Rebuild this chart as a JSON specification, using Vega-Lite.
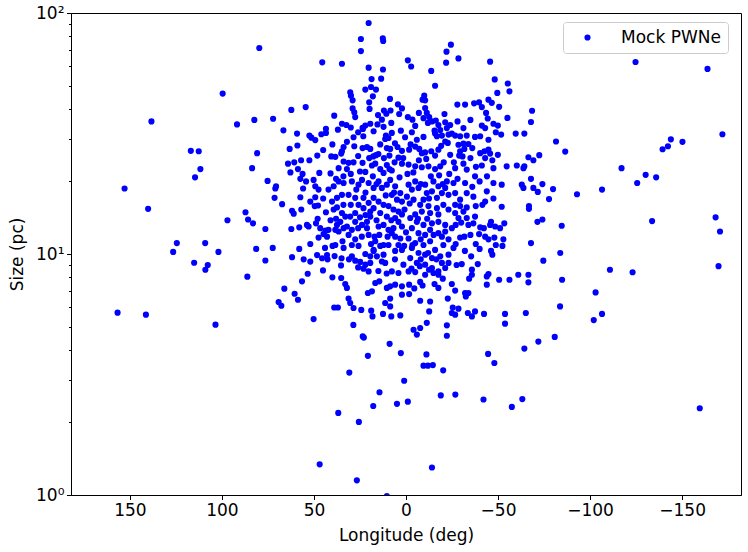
{
  "$schema": "https://vega.github.io/schema/vega-lite/v6.json",
  "width": 670,
  "height": 482,
  "autosize": {"type": "none"},
  "padding": {"left": 71, "top": 13, "right": 7, "bottom": 57},
  "config": {
    "font": "DejaVu Sans",
    "view": {"stroke": "black", "strokeWidth": 1},
    "axis": {
      "grid": false,
      "domainColor": "black",
      "tickColor": "black",
      "labelColor": "black",
      "titleColor": "black",
      "labelFontSize": 17,
      "titleFontSize": 17,
      "titleFontWeight": "normal",
      "labelPadding": 2.5,
      "tickSize": 4.5
    },
    "legend": {
      "labelFontSize": 17,
      "labelColor": "black",
      "padding": 7,
      "strokeColor": "#cccccc",
      "fillColor": "white",
      "cornerRadius": 3,
      "symbolOffset": 9,
      "labelOffset": 25
    }
  },
  "data": {
    "values": [
      {"lon": 79.7, "size": 71.6}, {"lon": 99.6, "size": 46.3}, {"lon": 138.3, "size": 35.5}, {"lon": 91.8, "size": 34.5},
      {"lon": 82.4, "size": 36.0}, {"lon": 116.9, "size": 26.8}, {"lon": 112.6, "size": 26.7}, {"lon": 80.9, "size": 26.2},
      {"lon": 111.7, "size": 22.5}, {"lon": 114.6, "size": 20.8}, {"lon": 83.6, "size": 22.7}, {"lon": 152.9, "size": 18.7},
      {"lon": 140.1, "size": 15.4}, {"lon": 87.2, "size": 14.9}, {"lon": 97.0, "size": 13.8}, {"lon": 85.8, "size": 13.9},
      {"lon": 83.1, "size": 13.4}, {"lon": 124.5, "size": 11.1}, {"lon": 126.5, "size": 10.2}, {"lon": 109.1, "size": 11.1},
      {"lon": 101.9, "size": 10.2}, {"lon": 81.4, "size": 10.5}, {"lon": 115.1, "size": 9.2}, {"lon": 107.7, "size": 9.0},
      {"lon": 109.0, "size": 8.6}, {"lon": 86.2, "size": 8.05}, {"lon": 156.7, "size": 5.71}, {"lon": 141.3, "size": 5.6},
      {"lon": 103.5, "size": 5.09},
      {"lon": -124.7, "size": 62.6}, {"lon": -163.8, "size": 58.6}, {"lon": -171.9, "size": 31.4}, {"lon": -81.5, "size": 29.3},
      {"lon": -86.5, "size": 26.6}, {"lon": -143.9, "size": 29.9}, {"lon": -150.2, "size": 29.2}, {"lon": -142.3, "size": 28.0},
      {"lon": -139.4, "size": 27.2}, {"lon": -117.1, "size": 22.7}, {"lon": -130.2, "size": 21.3}, {"lon": -135.9, "size": 20.8},
      {"lon": -125.6, "size": 19.7}, {"lon": -106.5, "size": 18.5}, {"lon": -92.9, "size": 17.7}, {"lon": -79.9, "size": 18.6},
      {"lon": -77.7, "size": 16.9}, {"lon": -133.7, "size": 13.7}, {"lon": -168.2, "size": 14.2}, {"lon": -170.6, "size": 12.4},
      {"lon": -84.6, "size": 13.1}, {"lon": -83.8, "size": 10.1}, {"lon": -110.8, "size": 8.6}, {"lon": -123.1, "size": 8.4},
      {"lon": -169.8, "size": 8.9}, {"lon": -84.8, "size": 7.82}, {"lon": -103.0, "size": 6.93}, {"lon": -83.7, "size": 6.06},
      {"lon": -102.0, "size": 5.32}, {"lon": -106.5, "size": 5.64}, {"lon": -80.8, "size": 4.53}, {"lon": -159.6, "size": 2.29},
      {"lon": 20.3, "size": 90.9}, {"lon": 24.5, "size": 78.0}, {"lon": 12.6, "size": 78.5}, {"lon": 12.4, "size": 76.5},
      {"lon": 24.5, "size": 69.5}, {"lon": 45.5, "size": 62.4}, {"lon": 34.8, "size": 61.6}, {"lon": 20.3, "size": 59.3},
      {"lon": 12.5, "size": 58.3}, {"lon": 18.7, "size": 53.2}, {"lon": 13.5, "size": 53.4}, {"lon": 22.1, "size": 48.1},
      {"lon": 19.0, "size": 49.3}, {"lon": 16.3, "size": 48.1}, {"lon": 30.3, "size": 46.9}, {"lon": 29.9, "size": 45.4},
      {"lon": 29.0, "size": 43.4}, {"lon": 18.0, "size": 45.1}, {"lon": 20.0, "size": 42.6}, {"lon": 8.7, "size": 44.0},
      {"lon": 19.8, "size": 40.0}, {"lon": 29.0, "size": 40.2}, {"lon": 28.1, "size": 38.7}, {"lon": 27.6, "size": 37.0},
      {"lon": 4.4, "size": 41.8}, {"lon": 2.2, "size": 40.2}, {"lon": 12.0, "size": 39.4}, {"lon": 8.4, "size": 39.4},
      {"lon": 10.7, "size": 38.2}, {"lon": 3.7, "size": 38.1}, {"lon": 62.3, "size": 39.6}, {"lon": 54.5, "size": 40.7},
      {"lon": 72.2, "size": 36.4}, {"lon": 39.0, "size": 37.5}, {"lon": 15.2, "size": 37.7}, {"lon": 13.1, "size": 36.1},
      {"lon": 34.8, "size": 34.7}, {"lon": 32.4, "size": 34.3}, {"lon": 22.1, "size": 34.1}, {"lon": 23.6, "size": 33.4},
      {"lon": 19.4, "size": 34.7}, {"lon": 37.0, "size": 32.8}, {"lon": 43.5, "size": 33.1}, {"lon": 43.5, "size": 31.8},
      {"lon": 46.0, "size": 31.4}, {"lon": 66.6, "size": 32.6}, {"lon": 59.2, "size": 31.6}, {"lon": 52.5, "size": 31.0},
      {"lon": 51.4, "size": 30.4}, {"lon": 49.3, "size": 29.7}, {"lon": 23.4, "size": 33.0}, {"lon": 23.2, "size": 30.8},
      {"lon": 17.6, "size": 32.3}, {"lon": 12.2, "size": 33.7}, {"lon": 10.9, "size": 31.0}, {"lon": 9.5, "size": 30.3},
      {"lon": 11.3, "size": 30.0}, {"lon": 7.7, "size": 31.8}, {"lon": 2.8, "size": 32.5}, {"lon": 32.1, "size": 29.2},
      {"lon": 63.2, "size": 27.3}, {"lon": 59.0, "size": 28.2}, {"lon": 33.9, "size": 27.8}, {"lon": 34.8, "size": 26.7},
      {"lon": 28.1, "size": 28.0}, {"lon": 23.6, "size": 27.5}, {"lon": 21.2, "size": 27.8}, {"lon": 19.4, "size": 27.3},
      {"lon": 17.8, "size": 25.4}, {"lon": 16.3, "size": 25.7}, {"lon": 10.4, "size": 27.5}, {"lon": 8.6, "size": 27.3},
      {"lon": 4.6, "size": 27.8}, {"lon": 2.2, "size": 26.8}, {"lon": 9.0, "size": 25.6}, {"lon": 64.1, "size": 23.7},
      {"lon": 60.7, "size": 24.0}, {"lon": 57.0, "size": 24.5}, {"lon": 52.5, "size": 24.5}, {"lon": 48.2, "size": 25.6},
      {"lon": 40.6, "size": 25.4}, {"lon": 38.4, "size": 25.3}, {"lon": 35.2, "size": 26.1}, {"lon": 33.9, "size": 24.2},
      {"lon": 31.2, "size": 23.9}, {"lon": 28.5, "size": 24.0}, {"lon": 36.6, "size": 22.7}, {"lon": 32.1, "size": 22.5},
      {"lon": 23.6, "size": 23.9}, {"lon": 18.5, "size": 23.3}, {"lon": 16.7, "size": 23.7}, {"lon": 10.4, "size": 23.4},
      {"lon": 6.2, "size": 24.0}, {"lon": 4.1, "size": 25.1}, {"lon": 2.2, "size": 23.7}, {"lon": 58.7, "size": 22.5},
      {"lon": 62.8, "size": 21.8}, {"lon": 56.2, "size": 21.5}, {"lon": 47.1, "size": 21.7}, {"lon": 41.0, "size": 21.6},
      {"lon": 22.1, "size": 21.9}, {"lon": 12.2, "size": 21.7}, {"lon": 7.7, "size": 22.2},
      {"lon": -24.4, "size": 73.9}, {"lon": -22.0, "size": 69.1}, {"lon": -21.8, "size": 62.2}, {"lon": -28.5, "size": 64.8},
      {"lon": -45.7, "size": 62.8}, {"lon": -1.0, "size": 63.6}, {"lon": -2.8, "size": 60.0}, {"lon": -13.7, "size": 57.5},
      {"lon": -15.8, "size": 49.9}, {"lon": -48.2, "size": 53.0}, {"lon": -55.3, "size": 51.0}, {"lon": -56.2, "size": 47.3},
      {"lon": -49.6, "size": 46.6}, {"lon": -9.9, "size": 45.4}, {"lon": -9.0, "size": 43.7}, {"lon": -10.4, "size": 43.4},
      {"lon": -27.9, "size": 41.7}, {"lon": -32.1, "size": 41.7}, {"lon": -37.0, "size": 42.2}, {"lon": -39.7, "size": 42.6},
      {"lon": -41.2, "size": 40.7}, {"lon": -44.8, "size": 43.7}, {"lon": -46.6, "size": 42.4}, {"lon": -50.6, "size": 40.8},
      {"lon": -68.5, "size": 39.3}, {"lon": -67.9, "size": 35.3}, {"lon": -55.1, "size": 36.7}, {"lon": -43.5, "size": 38.5},
      {"lon": -44.4, "size": 36.5}, {"lon": -41.2, "size": 34.1}, {"lon": -43.0, "size": 33.3}, {"lon": -47.5, "size": 34.7},
      {"lon": -49.9, "size": 34.1}, {"lon": -48.8, "size": 32.0}, {"lon": -51.7, "size": 31.3}, {"lon": -59.6, "size": 31.6},
      {"lon": -64.3, "size": 31.6}, {"lon": -20.9, "size": 38.1}, {"lon": -1.0, "size": 37.0}, {"lon": -3.5, "size": 36.1},
      {"lon": -10.4, "size": 40.3}, {"lon": -11.3, "size": 38.5}, {"lon": -9.5, "size": 36.6}, {"lon": -12.6, "size": 37.0},
      {"lon": -11.9, "size": 35.0}, {"lon": -14.1, "size": 35.5}, {"lon": -16.2, "size": 35.8}, {"lon": -17.6, "size": 34.3},
      {"lon": -21.3, "size": 35.2}, {"lon": -24.0, "size": 34.3}, {"lon": -22.2, "size": 33.3}, {"lon": -18.6, "size": 32.7},
      {"lon": -15.5, "size": 32.5}, {"lon": -31.2, "size": 33.3}, {"lon": -3.2, "size": 32.0}, {"lon": -5.9, "size": 29.8},
      {"lon": -9.5, "size": 30.6}, {"lon": -15.8, "size": 31.6}, {"lon": -16.8, "size": 30.8}, {"lon": -19.5, "size": 31.0},
      {"lon": -23.1, "size": 31.3}, {"lon": -24.9, "size": 31.6}, {"lon": -26.7, "size": 31.0}, {"lon": -21.3, "size": 29.3},
      {"lon": -22.7, "size": 28.9}, {"lon": -29.4, "size": 30.8}, {"lon": -28.5, "size": 28.4}, {"lon": -31.2, "size": 28.7},
      {"lon": -33.9, "size": 28.6}, {"lon": -37.5, "size": 30.6}, {"lon": -40.3, "size": 30.8}, {"lon": -44.8, "size": 29.8},
      {"lon": -1.7, "size": 27.1}, {"lon": -5.0, "size": 27.9}, {"lon": -7.2, "size": 27.3}, {"lon": -8.6, "size": 26.2},
      {"lon": -10.4, "size": 26.4}, {"lon": -13.7, "size": 26.7}, {"lon": -17.6, "size": 27.1}, {"lon": -19.1, "size": 28.1},
      {"lon": -15.8, "size": 25.6}, {"lon": -29.4, "size": 26.7}, {"lon": -31.7, "size": 27.3}, {"lon": -30.7, "size": 25.4},
      {"lon": -28.9, "size": 25.6}, {"lon": -40.3, "size": 26.2}, {"lon": -42.6, "size": 26.7}, {"lon": -44.8, "size": 27.1},
      {"lon": -45.7, "size": 26.1}, {"lon": -43.0, "size": 25.0}, {"lon": -49.9, "size": 25.8}, {"lon": -46.9, "size": 24.5},
      {"lon": -66.5, "size": 25.2}, {"lon": -69.2, "size": 24.5}, {"lon": -72.4, "size": 25.7}, {"lon": -54.7, "size": 23.1},
      {"lon": -60.2, "size": 23.3}, {"lon": -63.8, "size": 22.7}, {"lon": -64.3, "size": 23.1}, {"lon": -1.4, "size": 23.5},
      {"lon": -5.0, "size": 23.1}, {"lon": -8.6, "size": 22.9}, {"lon": -12.2, "size": 23.1}, {"lon": -15.8, "size": 22.5},
      {"lon": -18.6, "size": 23.1}, {"lon": -26.7, "size": 22.7}, {"lon": -31.2, "size": 23.7}, {"lon": -33.0, "size": 22.4},
      {"lon": -41.2, "size": 23.3}, {"lon": -47.5, "size": 22.7},
      {"lon": 75.2, "size": 20.1}, {"lon": 70.6, "size": 19.1}, {"lon": 71.0, "size": 18.7}, {"lon": 71.4, "size": 17.1},
      {"lon": 67.3, "size": 16.1}, {"lon": 57.4, "size": 20.5}, {"lon": 54.3, "size": 20.0}, {"lon": 50.2, "size": 20.3},
      {"lon": 49.3, "size": 19.1}, {"lon": 47.5, "size": 18.5}, {"lon": 55.9, "size": 18.7}, {"lon": 57.4, "size": 17.2},
      {"lon": 49.3, "size": 17.2}, {"lon": 61.9, "size": 15.1}, {"lon": 61.0, "size": 14.7}, {"lon": 56.9, "size": 15.3},
      {"lon": 49.6, "size": 15.8}, {"lon": 47.8, "size": 15.9}, {"lon": 43.5, "size": 14.9}, {"lon": 76.4, "size": 12.7},
      {"lon": 62.3, "size": 12.7}, {"lon": 58.0, "size": 12.9}, {"lon": 53.8, "size": 13.2}, {"lon": 52.9, "size": 13.0},
      {"lon": 48.9, "size": 13.4}, {"lon": 46.6, "size": 12.8}, {"lon": 43.8, "size": 12.5}, {"lon": 42.9, "size": 11.8},
      {"lon": 47.5, "size": 11.7}, {"lon": 44.8, "size": 12.1}, {"lon": 72.4, "size": 10.6}, {"lon": 76.4, "size": 9.4},
      {"lon": 61.9, "size": 9.7}, {"lon": 55.6, "size": 9.5}, {"lon": 52.0, "size": 9.3}, {"lon": 48.3, "size": 9.9},
      {"lon": 45.6, "size": 9.6}, {"lon": 42.9, "size": 9.9}, {"lon": 42.6, "size": 9.5}, {"lon": 38.8, "size": 9.8},
      {"lon": 45.1, "size": 8.55}, {"lon": 53.4, "size": 8.28}, {"lon": 56.5, "size": 7.7}, {"lon": 66.1, "size": 7.18},
      {"lon": 60.5, "size": 6.84}, {"lon": 58.7, "size": 6.46}, {"lon": 69.2, "size": 6.32}, {"lon": 67.7, "size": 6.1},
      {"lon": 50.2, "size": 5.37}, {"lon": 39.0, "size": 6.0}, {"lon": 37.0, "size": 6.0}, {"lon": 28.6, "size": 5.08},
      {"lon": 35.2, "size": 7.95}, {"lon": 33.0, "size": 7.51}, {"lon": 32.1, "size": 7.23}, {"lon": 31.2, "size": 6.53},
      {"lon": 30.3, "size": 6.26}, {"lon": 28.5, "size": 5.97}, {"lon": 24.3, "size": 5.86}, {"lon": 35.3, "size": 8.97},
      {"lon": 18.9, "size": 5.82}, {"lon": 18.2, "size": 5.51}, {"lon": 12.5, "size": 5.64}, {"lon": 8.6, "size": 6.06},
      {"lon": 8.0, "size": 5.51}, {"lon": 3.1, "size": 5.56}, {"lon": 20.7, "size": 6.89}, {"lon": 18.5, "size": 7.0},
      {"lon": 16.7, "size": 7.58}, {"lon": 14.5, "size": 7.7}, {"lon": 11.3, "size": 6.26}, {"lon": 8.6, "size": 6.53},
      {"lon": 10.4, "size": 7.23}, {"lon": 8.6, "size": 7.34}, {"lon": 5.9, "size": 7.46}, {"lon": 2.2, "size": 7.34},
      {"lon": 2.2, "size": 6.78}, {"lon": 7.7, "size": 8.47}, {"lon": 4.1, "size": 8.34}, {"lon": 1.4, "size": 9.03},
      {"lon": 23.1, "size": 8.69}, {"lon": 20.3, "size": 8.47}, {"lon": 22.1, "size": 9.03}, {"lon": 19.4, "size": 9.18},
      {"lon": 17.6, "size": 10.3}, {"lon": 19.4, "size": 9.78}, {"lon": 15.8, "size": 9.78}, {"lon": 12.2, "size": 9.94},
      {"lon": 11.3, "size": 9.18}, {"lon": 13.1, "size": 9.31}, {"lon": 29.4, "size": 9.78}, {"lon": 27.6, "size": 9.38},
      {"lon": 24.9, "size": 9.27}, {"lon": 22.1, "size": 10.0}, {"lon": 7.7, "size": 12.2}, {"lon": 5.9, "size": 11.8},
      {"lon": 3.1, "size": 11.6}, {"lon": 4.1, "size": 10.9}, {"lon": 2.2, "size": 10.4}, {"lon": 5.9, "size": 10.3},
      {"lon": 9.5, "size": 10.9}, {"lon": 17.6, "size": 10.4}, {"lon": 14.0, "size": 10.8}, {"lon": 12.2, "size": 10.9},
      {"lon": 16.7, "size": 11.3}, {"lon": 27.6, "size": 11.5}, {"lon": 25.8, "size": 10.8}, {"lon": 29.4, "size": 10.9},
      {"lon": 34.5, "size": 11.3}, {"lon": 38.4, "size": 10.9}, {"lon": 39.9, "size": 10.8}, {"lon": 33.9, "size": 10.6},
      {"lon": 31.2, "size": 12.0}, {"lon": 29.4, "size": 12.6}, {"lon": 32.1, "size": 13.0}, {"lon": 33.9, "size": 12.8},
      {"lon": 36.6, "size": 12.4}, {"lon": 38.4, "size": 12.6}, {"lon": 42.1, "size": 12.6}, {"lon": 27.6, "size": 13.6},
      {"lon": 23.9, "size": 13.2}, {"lon": 21.2, "size": 12.8}, {"lon": 20.3, "size": 12.0}, {"lon": 17.1, "size": 11.8},
      {"lon": 21.2, "size": 13.6}, {"lon": 19.4, "size": 14.3}, {"lon": 14.9, "size": 13.0}, {"lon": 12.2, "size": 13.2},
      {"lon": 9.5, "size": 12.6}, {"lon": 6.8, "size": 12.8}, {"lon": 4.1, "size": 13.6}, {"lon": 2.2, "size": 13.0},
      {"lon": 39.3, "size": 15.3}, {"lon": 37.5, "size": 15.6}, {"lon": 34.8, "size": 14.8}, {"lon": 33.0, "size": 14.3},
      {"lon": 30.3, "size": 14.3}, {"lon": 27.6, "size": 14.8}, {"lon": 35.7, "size": 13.6}, {"lon": 37.5, "size": 13.2},
      {"lon": 40.2, "size": 16.5}, {"lon": 37.5, "size": 17.1}, {"lon": 34.8, "size": 17.6}, {"lon": 31.2, "size": 17.6},
      {"lon": 27.6, "size": 17.1}, {"lon": 23.1, "size": 17.1}, {"lon": 20.3, "size": 16.3}, {"lon": 17.6, "size": 17.1},
      {"lon": 14.9, "size": 16.5}, {"lon": 12.2, "size": 16.0}, {"lon": 9.5, "size": 15.8}, {"lon": 6.8, "size": 15.3},
      {"lon": 4.1, "size": 15.0}, {"lon": 2.2, "size": 14.6}, {"lon": 5.9, "size": 14.1}, {"lon": 10.4, "size": 14.3},
      {"lon": 14.0, "size": 14.8}, {"lon": 17.6, "size": 15.5}, {"lon": 19.4, "size": 15.0}, {"lon": 23.1, "size": 15.5},
      {"lon": 25.8, "size": 16.0}, {"lon": 42.1, "size": 18.5}, {"lon": 39.3, "size": 19.1}, {"lon": 36.6, "size": 20.0},
      {"lon": 33.9, "size": 19.7}, {"lon": 29.4, "size": 20.0}, {"lon": 25.8, "size": 19.4}, {"lon": 23.9, "size": 20.3},
      {"lon": 20.3, "size": 19.7}, {"lon": 17.6, "size": 18.8}, {"lon": 14.9, "size": 20.0}, {"lon": 13.1, "size": 18.8},
      {"lon": 10.4, "size": 19.4}, {"lon": 8.6, "size": 20.3}, {"lon": 5.9, "size": 19.1}, {"lon": 3.1, "size": 17.9},
      {"lon": 2.2, "size": 16.5}, {"lon": 4.9, "size": 16.8}, {"lon": 7.7, "size": 17.6},
      {"lon": -67.9, "size": 20.5}, {"lon": -69.2, "size": 18.8}, {"lon": -62.9, "size": 19.4}, {"lon": -63.8, "size": 18.8},
      {"lon": -74.1, "size": 19.5}, {"lon": -71.6, "size": 18.1}, {"lon": -66.8, "size": 15.8}, {"lon": -66.8, "size": 15.4},
      {"lon": -74.1, "size": 13.9}, {"lon": -71.4, "size": 13.6}, {"lon": -67.9, "size": 11.1}, {"lon": -74.6, "size": 9.38},
      {"lon": -66.5, "size": 8.2}, {"lon": -66.5, "size": 7.63}, {"lon": -61.0, "size": 8.2}, {"lon": -56.2, "size": 7.82},
      {"lon": -50.6, "size": 7.82}, {"lon": -65.1, "size": 5.69}, {"lon": -53.8, "size": 5.64}, {"lon": -53.8, "size": 5.14},
      {"lon": -42.4, "size": 5.64}, {"lon": -37.5, "size": 5.78}, {"lon": -35.8, "size": 5.51}, {"lon": -33.6, "size": 5.69},
      {"lon": -28.5, "size": 5.93}, {"lon": -26.7, "size": 5.6}, {"lon": -24.9, "size": 5.69}, {"lon": -22.2, "size": 5.06},
      {"lon": -12.6, "size": 5.78}, {"lon": -11.3, "size": 5.18}, {"lon": -7.7, "size": 4.93}, {"lon": -4.1, "size": 4.85},
      {"lon": -7.7, "size": 6.4}, {"lon": -13.1, "size": 6.35}, {"lon": -22.7, "size": 6.53}, {"lon": -25.4, "size": 6.0},
      {"lon": -1.7, "size": 7.46}, {"lon": -7.7, "size": 7.66}, {"lon": -17.6, "size": 7.23}, {"lon": -15.5, "size": 7.51},
      {"lon": -24.9, "size": 7.51}, {"lon": -26.7, "size": 7.05}, {"lon": -32.1, "size": 6.89}, {"lon": -33.9, "size": 6.89},
      {"lon": -32.5, "size": 6.67}, {"lon": -43.9, "size": 7.46}, {"lon": -43.9, "size": 8.07}, {"lon": -44.8, "size": 8.26},
      {"lon": -34.3, "size": 7.9}, {"lon": -35.8, "size": 8.61}, {"lon": -39.0, "size": 9.08}, {"lon": -30.3, "size": 9.08},
      {"lon": -35.4, "size": 9.78}, {"lon": -46.9, "size": 9.94}, {"lon": -46.2, "size": 10.3}, {"lon": -48.8, "size": 10.9},
      {"lon": -52.4, "size": 10.8}, {"lon": -52.9, "size": 11.5}, {"lon": -37.9, "size": 11.0}, {"lon": -29.4, "size": 11.7},
      {"lon": -31.7, "size": 11.8}, {"lon": -39.7, "size": 12.1}, {"lon": -43.0, "size": 11.8}, {"lon": -44.8, "size": 11.5},
      {"lon": -48.0, "size": 11.7}, {"lon": -42.3, "size": 12.8}, {"lon": -45.7, "size": 13.2}, {"lon": -48.4, "size": 13.0},
      {"lon": -46.2, "size": 13.6}, {"lon": -53.4, "size": 13.4}, {"lon": -51.1, "size": 12.8}, {"lon": -33.0, "size": 14.1},
      {"lon": -36.6, "size": 13.4}, {"lon": -40.3, "size": 12.9}, {"lon": -37.5, "size": 14.3}, {"lon": -33.9, "size": 13.2},
      {"lon": -52.0, "size": 15.7}, {"lon": -43.0, "size": 16.5}, {"lon": -41.5, "size": 16.0}, {"lon": -37.9, "size": 15.8},
      {"lon": -36.6, "size": 17.3}, {"lon": -47.5, "size": 17.0}, {"lon": -43.9, "size": 18.2}, {"lon": -47.5, "size": 19.7},
      {"lon": -52.0, "size": 19.4}, {"lon": -32.1, "size": 19.7}, {"lon": -37.5, "size": 21.0}, {"lon": -33.0, "size": 17.9},
      {"lon": -29.4, "size": 15.8}, {"lon": -33.0, "size": 15.6}, {"lon": -29.4, "size": 16.8}, {"lon": -26.7, "size": 16.0},
      {"lon": -31.2, "size": 15.0}, {"lon": -26.7, "size": 14.8}, {"lon": -28.5, "size": 14.1},
      {"lon": -26.7, "size": 17.9}, {"lon": -25.8, "size": 19.7}, {"lon": -21.3, "size": 18.8}, {"lon": -23.1, "size": 17.6},
      {"lon": -22.2, "size": 20.0}, {"lon": -17.6, "size": 19.1}, {"lon": -19.5, "size": 17.9}, {"lon": -16.8, "size": 17.1},
      {"lon": -14.1, "size": 18.2}, {"lon": -14.9, "size": 20.0}, {"lon": -10.4, "size": 19.4}, {"lon": -11.3, "size": 17.9},
      {"lon": -9.5, "size": 16.8}, {"lon": -6.8, "size": 18.8}, {"lon": -5.0, "size": 20.0}, {"lon": -3.2, "size": 18.5},
      {"lon": -1.4, "size": 19.4}, {"lon": -0.5, "size": 17.3}, {"lon": -4.1, "size": 16.8}, {"lon": -7.7, "size": 16.0},
      {"lon": -12.2, "size": 15.8}, {"lon": -16.8, "size": 15.5}, {"lon": -20.3, "size": 16.0}, {"lon": -23.1, "size": 15.3},
      {"lon": -17.6, "size": 14.6}, {"lon": -13.1, "size": 14.8}, {"lon": -8.6, "size": 15.0}, {"lon": -5.0, "size": 14.6},
      {"lon": -2.3, "size": 14.1}, {"lon": -5.9, "size": 13.6}, {"lon": -9.5, "size": 13.2}, {"lon": -14.1, "size": 13.4},
      {"lon": -17.6, "size": 13.6}, {"lon": -21.3, "size": 13.2}, {"lon": -24.9, "size": 12.8}, {"lon": -21.3, "size": 12.4},
      {"lon": -17.6, "size": 12.2}, {"lon": -13.1, "size": 12.6}, {"lon": -10.4, "size": 12.0}, {"lon": -6.8, "size": 12.2},
      {"lon": -3.2, "size": 12.8}, {"lon": -1.4, "size": 11.6}, {"lon": -5.0, "size": 11.1}, {"lon": -9.5, "size": 10.9},
      {"lon": -13.1, "size": 11.3}, {"lon": -15.8, "size": 10.4}, {"lon": -20.3, "size": 10.9}, {"lon": -23.1, "size": 11.5},
      {"lon": -25.8, "size": 10.6}, {"lon": -23.1, "size": 9.94}, {"lon": -18.6, "size": 9.78}, {"lon": -14.1, "size": 9.62},
      {"lon": -10.4, "size": 9.94}, {"lon": -6.8, "size": 10.1}, {"lon": -3.2, "size": 10.6}, {"lon": -2.3, "size": 9.62},
      {"lon": -5.9, "size": 9.18}, {"lon": -10.4, "size": 9.03}, {"lon": -14.1, "size": 8.75}, {"lon": -17.6, "size": 8.47},
      {"lon": -21.3, "size": 8.75}, {"lon": -23.1, "size": 9.18}, {"lon": -19.5, "size": 9.18}, {"lon": -17.6, "size": 8.2},
      {"lon": -14.9, "size": 8.34}, {"lon": -10.4, "size": 8.2}, {"lon": -5.0, "size": 8.41}, {"lon": -1.4, "size": 8.47},
      {"lon": -35.8, "size": 8.2}, {"lon": -1.7, "size": 6.82},
      {"lon": 23.5, "size": 4.55}, {"lon": 22.9, "size": 4.5}, {"lon": 8.9, "size": 4.24}, {"lon": 2.8, "size": 3.88},
      {"lon": 20.7, "size": 3.78}, {"lon": 30.8, "size": 3.22}, {"lon": 1.0, "size": 2.98}, {"lon": 14.4, "size": 2.67},
      {"lon": 17.8, "size": 2.34}, {"lon": 4.9, "size": 2.39}, {"lon": 36.8, "size": 2.19}, {"lon": 25.6, "size": 2.01},
      {"lon": 46.9, "size": 1.34}, {"lon": 26.7, "size": 1.15}, {"lon": 10.4, "size": 0.99},
      {"lon": -5.9, "size": 4.63}, {"lon": -22.2, "size": 4.58}, {"lon": -11.1, "size": 3.83}, {"lon": -9.5, "size": 3.44},
      {"lon": -11.9, "size": 3.44}, {"lon": -14.6, "size": 3.46}, {"lon": -20.2, "size": 3.29}, {"lon": -1.0, "size": 2.44},
      {"lon": -18.9, "size": 2.59}, {"lon": -26.8, "size": 2.61}, {"lon": -14.1, "size": 1.3}, {"lon": -44.6, "size": 3.85},
      {"lon": -48.0, "size": 3.53}, {"lon": -42.1, "size": 2.49}, {"lon": -57.5, "size": 2.32}, {"lon": -63.2, "size": 2.5},
      {"lon": -64.3, "size": 4.05}, {"lon": -71.9, "size": 4.33},
      {"lon": 0.5, "size": 30.5}, {"lon": -2.5, "size": 28.5}, {"lon": 1.5, "size": 25.0}, {"lon": -0.8, "size": 21.5},
      {"lon": 3.5, "size": 20.8}, {"lon": -4.0, "size": 21.8}, {"lon": -7.0, "size": 24.5}, {"lon": -11.0, "size": 24.8},
      {"lon": -13.5, "size": 21.0}, {"lon": -18.0, "size": 21.2}, {"lon": -20.5, "size": 24.0}, {"lon": -24.0, "size": 25.8},
      {"lon": -26.0, "size": 24.0}, {"lon": -23.5, "size": 21.5}, {"lon": -20.0, "size": 19.5}, {"lon": -8.0, "size": 19.5},
      {"lon": -12.5, "size": 17.0}, {"lon": -2.0, "size": 16.2}, {"lon": 0.8, "size": 15.3}, {"lon": -6.5, "size": 14.0},
      {"lon": -11.5, "size": 14.0}, {"lon": -15.0, "size": 12.0}, {"lon": -19.5, "size": 11.8}, {"lon": -8.0, "size": 11.5},
      {"lon": -3.5, "size": 10.9}, {"lon": 0.0, "size": 12.3}, {"lon": 1.0, "size": 10.8}, {"lon": -12.0, "size": 10.1},
      {"lon": -16.5, "size": 9.5}, {"lon": -8.0, "size": 9.5}, {"lon": -12.5, "size": 8.6}, {"lon": -7.5, "size": 8.9},
      {"lon": -3.0, "size": 8.7}, {"lon": -20.0, "size": 7.9}, {"lon": -9.0, "size": 7.4}, {"lon": -4.5, "size": 7.2},
      {"lon": -27.5, "size": 9.0}, {"lon": -27.0, "size": 11.0}, {"lon": -27.0, "size": 13.2}, {"lon": -30.0, "size": 13.5},
      {"lon": -35.0, "size": 12.0}, {"lon": -32.0, "size": 10.3}, {"lon": -40.0, "size": 10.5}, {"lon": -36.0, "size": 19.0},
      {"lon": -40.0, "size": 20.0}, {"lon": -44.0, "size": 21.0}, {"lon": -38.0, "size": 23.0}, {"lon": -35.0, "size": 25.0},
      {"lon": -36.0, "size": 27.5}, {"lon": -28.0, "size": 20.5}, {"lon": 6.0, "size": 28.8}, {"lon": 14.0, "size": 28.5},
      {"lon": 15.0, "size": 26.0}, {"lon": 12.0, "size": 25.0}, {"lon": 20.0, "size": 25.0}, {"lon": 26.0, "size": 25.5},
      {"lon": 25.0, "size": 22.0}, {"lon": 30.0, "size": 21.5}, {"lon": 34.0, "size": 21.0}, {"lon": 38.0, "size": 20.5},
      {"lon": 27.0, "size": 18.5}, {"lon": 22.0, "size": 18.0}, {"lon": 16.0, "size": 19.5}, {"lon": 11.0, "size": 17.5},
      {"lon": 6.5, "size": 18.0}, {"lon": 9.0, "size": 22.5}, {"lon": 14.0, "size": 22.5}, {"lon": 18.0, "size": 21.0},
      {"lon": 30.0, "size": 16.0}, {"lon": 34.0, "size": 16.0}, {"lon": 38.0, "size": 14.0}, {"lon": 41.0, "size": 13.8},
      {"lon": 25.0, "size": 14.2}, {"lon": 22.0, "size": 14.5}, {"lon": 16.0, "size": 13.8}, {"lon": 8.0, "size": 13.8},
      {"lon": 10.0, "size": 11.8}, {"lon": 14.5, "size": 12.0}, {"lon": 19.0, "size": 11.0}, {"lon": 24.0, "size": 11.8},
      {"lon": 26.0, "size": 12.8}, {"lon": 31.0, "size": 9.5}, {"lon": 35.0, "size": 9.6}, {"lon": 26.0, "size": 8.8},
      {"lon": 15.0, "size": 8.5}, {"lon": 10.5, "size": 8.3}, {"lon": 6.0, "size": 9.5}, {"lon": 40.0, "size": 8.0},
      {"lon": 44.0, "size": 10.6}, {"lon": 48.0, "size": 14.0}, {"lon": 52.0, "size": 16.5}, {"lon": 45.0, "size": 17.0},
      {"lon": 52.0, "size": 11.0}, {"lon": 58.0, "size": 10.5}, {"lon": 8.0, "size": 35.0}, {"lon": 15.5, "size": 34.5},
      {"lon": 26.0, "size": 32.0}, {"lon": 30.0, "size": 33.5}, {"lon": 28.5, "size": 30.5}, {"lon": 40.0, "size": 28.5},
      {"lon": 45.0, "size": 27.0}, {"lon": -5.0, "size": 34.0}, {"lon": -7.0, "size": 38.5}, {"lon": -28.0, "size": 35.5},
      {"lon": -35.0, "size": 36.0}, {"lon": -33.0, "size": 31.0}
    ]
  },
  "mark": {"type": "circle", "size": 38, "opacity": 1, "clip": true},
  "encoding": {
    "x": {
      "field": "lon",
      "type": "quantitative",
      "title": "Longitude (deg)",
      "scale": {"domain": [182, -182], "nice": false, "zero": false},
      "axis": {
        "values": [150, 100, 50, 0, -50, -100, -150],
        "labelExpr": "datum.value < 0 ? '\u2212' + abs(datum.value) : '' + datum.value",
        "titlePadding": 9
      }
    },
    "y": {
      "field": "size",
      "type": "quantitative",
      "title": "Size (pc)",
      "scale": {"type": "log", "domain": [1, 100], "nice": false},
      "axis": {
        "values": [1, 2, 3, 4, 5, 6, 7, 8, 9, 10, 20, 30, 40, 50, 60, 70, 80, 90, 100],
        "labelExpr": "datum.value == 1 ? '10\u2070' : datum.value == 10 ? '10\u00b9' : datum.value == 100 ? '10\u00b2' : ''",
        "tickSize": {"condition": {"test": "datum.value == 1 || datum.value == 10 || datum.value == 100", "value": 4.5}, "value": 2.5},
        "titlePadding": 9
      }
    },
    "color": {
      "datum": "Mock PWNe",
      "type": "nominal",
      "scale": {"range": ["#0000ff"]},
      "legend": {
        "title": null,
        "orient": "none",
        "legendX": 492,
        "legendY": 9,
        "symbolSize": 38,
        "symbolOpacity": 1,
        "symbolStrokeWidth": 0
      }
    }
  }
}
